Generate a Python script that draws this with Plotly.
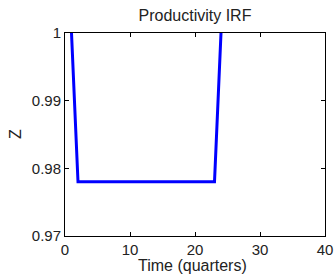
import plotly.graph_objects as go

t = list(range(1, 25))
z = [1.0] + [0.978] * 22 + [1.0]

xticks = [0, 10, 20, 30, 40]
yticks = [0.97, 0.98, 0.99, 1.0]
yticklabels = ["0.97", "0.98", "0.99", "1"]

fig = go.Figure()
fig.add_trace(go.Scatter(x=t, y=z, mode="lines",
                         line=dict(color="#0000ff", width=3)))

axis_common = dict(showgrid=False, zeroline=False, showline=True, linecolor="black",
                   linewidth=1, mirror="ticks", ticks="inside", ticklen=4,
                   tickcolor="black", tickfont=dict(size=15, color="#222222"),
                   automargin=False)
fig.update_layout(
    width=336, height=274,
    margin=dict(l=65, r=11, t=33, b=38),
    paper_bgcolor="white", plot_bgcolor="white",
    font=dict(family="Liberation Sans, Arial, sans-serif", color="#222222"),
    showlegend=False,
    title=dict(text="Productivity IRF", x=0.5, xanchor="center", xref="paper",
               y=1 - 15 / 274, yanchor="middle", font=dict(size=16)),
    xaxis=dict(range=[0, 40], tickvals=xticks, **axis_common),
    yaxis=dict(range=[0.97, 1.0], tickvals=yticks, ticktext=yticklabels, **axis_common),
)
fig.add_annotation(text="Time (quarters)", xref="paper", yref="paper", x=0.49, y=-29 / 203,
                   xanchor="center", yanchor="middle", showarrow=False, font=dict(size=16))
fig.add_annotation(text="Z", xref="paper", yref="paper", x=-50 / 260, y=(236 - 134) / 203,
                   textangle=-90, xanchor="center", yanchor="middle", showarrow=False,
                   font=dict(size=16))
fig.write_html("out.html", config={"displayModeBar": False},
               post_script="document.body.style.margin='0';")
